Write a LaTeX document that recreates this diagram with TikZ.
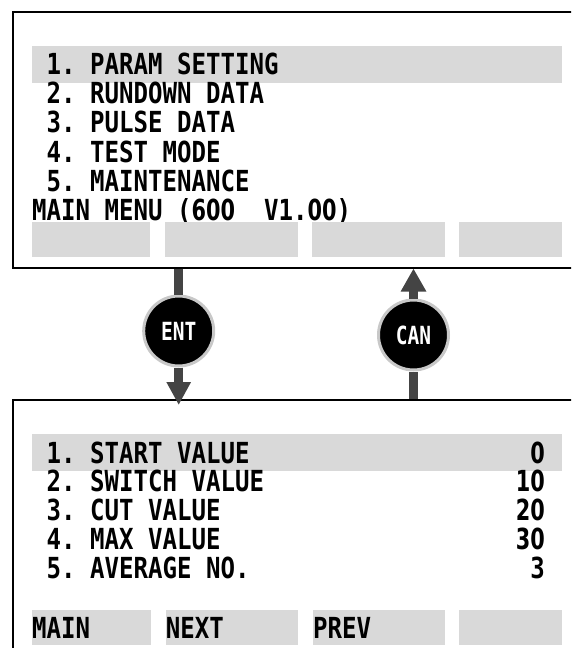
\documentclass[tikz,border=0pt]{standalone}
\usepackage{fontspec}
\newfontfamily\lcdfont[FakeStretch=0.83]{DejaVu Sans Mono}
\newfontfamily\lcddigit[FakeStretch=0.718]{DejaVu Sans}
\newfontfamily\keyfont[FakeStretch=0.78]{DejaVu Sans Mono}
\newcommand{\nm}[1]{{\lcddigit #1}}
\usetikzlibrary{positioning,arrows.meta}
\definecolor{barGray}{HTML}{D9D9D9}
\definecolor{shaftGray}{HTML}{444444}
\definecolor{ringGray}{HTML}{C8C8C8}
\tikzset{
    screen/.style={rectangle, draw=black, line width=2pt, anchor=north west, inner sep=0pt},
    hilite/.style={rectangle, fill=barGray, anchor=north west, inner sep=0pt, minimum width=530pt, minimum height=37pt},
    softkey/.style={rectangle, fill=barGray, anchor=north west, inner sep=0pt, minimum height=35pt, text height=21pt, text depth=0pt, align=left, font=\lcdfont\bfseries\fontsize{29}{31}\selectfont},
    lcd/.style={inner sep=0pt, anchor=base west, font=\lcdfont\bfseries\fontsize{29}{31}\selectfont},
    lcdval/.style={lcd, anchor=base east},
    keybtn/.style={circle, fill=black, draw=ringGray, line width=3pt, minimum size=70pt, inner sep=0pt, text=white, font=\keyfont\bfseries\fontsize{25}{25}\selectfont},
    shaft/.style={draw=shaftGray, line width=9pt}
    }
\begin{document}
\begin{tikzpicture}[x=1pt,y=-1pt]
    \useasboundingbox (0,0) rectangle (571,648);
    \clip (0,0) rectangle (571,648);
    % main menu screen
    \node[screen, minimum width=600pt, minimum height=255.5pt] (mainscr) at (12,11) {};
    \node[hilite] (mainsel) at (32,46) {};
    \node[lcd] (m1) at (46.5,74) {1.~PARAM SETTING};
    \node[lcd] (m2) at (46.5,103.3) {2.~RUNDOWN DATA};
    \node[lcd] (m3) at (46.5,132.6) {3.~PULSE DATA};
    \node[lcd] (m4) at (46.5,162) {4.~TEST MODE};
    \node[lcd] (m5) at (46.5,191.3) {5.~MAINTENANCE};
    \node[lcd] (mtitle) at (32,220.6) {MAIN MENU (\nm{600}~~V1.\nm{00})};
    \node[softkey, text width=117.7pt, minimum width=117.7pt] (mk1) at (32,222) {};
    \node[softkey, text width=133pt, minimum width=133pt] (mk2) at (165,222) {};
    \node[softkey, text width=132.6pt, minimum width=132.6pt] (mk3) at (312,222) {};
    \node[softkey, text width=103pt, minimum width=103pt] (mk4) at (459,222) {};
    % parameter screen
    \node[screen, minimum width=600pt, minimum height=300pt] (parscr) at (12,399) {};
    \node[hilite] (parsel) at (32,434) {};
    \node[lcd] (p1) at (46.5,463) {1.~START VALUE};
    \node[lcd] (p2) at (46.5,491.8) {2.~SWITCH VALUE};
    \node[lcd] (p3) at (46.5,520.6) {3.~CUT VALUE};
    \node[lcd] (p4) at (46.5,549.4) {4.~MAX VALUE};
    \node[lcd] (p5) at (46.5,578.2) {5.~AVERAGE NO.};
    \node[lcdval] (v1) at (545,463) {\nm{0}};
    \node[lcdval] (v2) at (545,491.8) {\nm{10}};
    \node[lcdval] (v3) at (545,520.6) {\nm{20}};
    \node[lcdval] (v4) at (545,549.4) {\nm{30}};
    \node[lcdval] (v5) at (545,578.2) {3};
    \node[softkey, text width=118.7pt, minimum width=118.7pt] (pk1) at (32,610) {MAIN};
    \node[softkey, text width=132pt, minimum width=132pt] (pk2) at (165.7,610) {NEXT};
    \node[softkey, text width=131.6pt, minimum width=131.6pt] (pk3) at (313,610) {PREV};
    \node[softkey, text width=103pt, minimum width=103pt] (pk4) at (459,610) {};
    % keys
    \node[keybtn] (ent) at (178.7,331) {ENT};
    \node[keybtn] (can) at (413.5,335) {CAN};
    \draw[shaft] (ent.north |- mainscr.south) -- (ent.north);
    \draw[shaft, -{Triangle[length=23pt,width=23pt]}, shorten >=-6pt] (ent.south) -- (ent.south |- parscr.north);
    \draw[shaft, -{Triangle[length=23pt,width=24pt]}] (can.north) -- (can.north |- mainscr.south);
    \draw[shaft] (can.south |- parscr.north) -- (can.south);
\end{tikzpicture}
\end{document}
